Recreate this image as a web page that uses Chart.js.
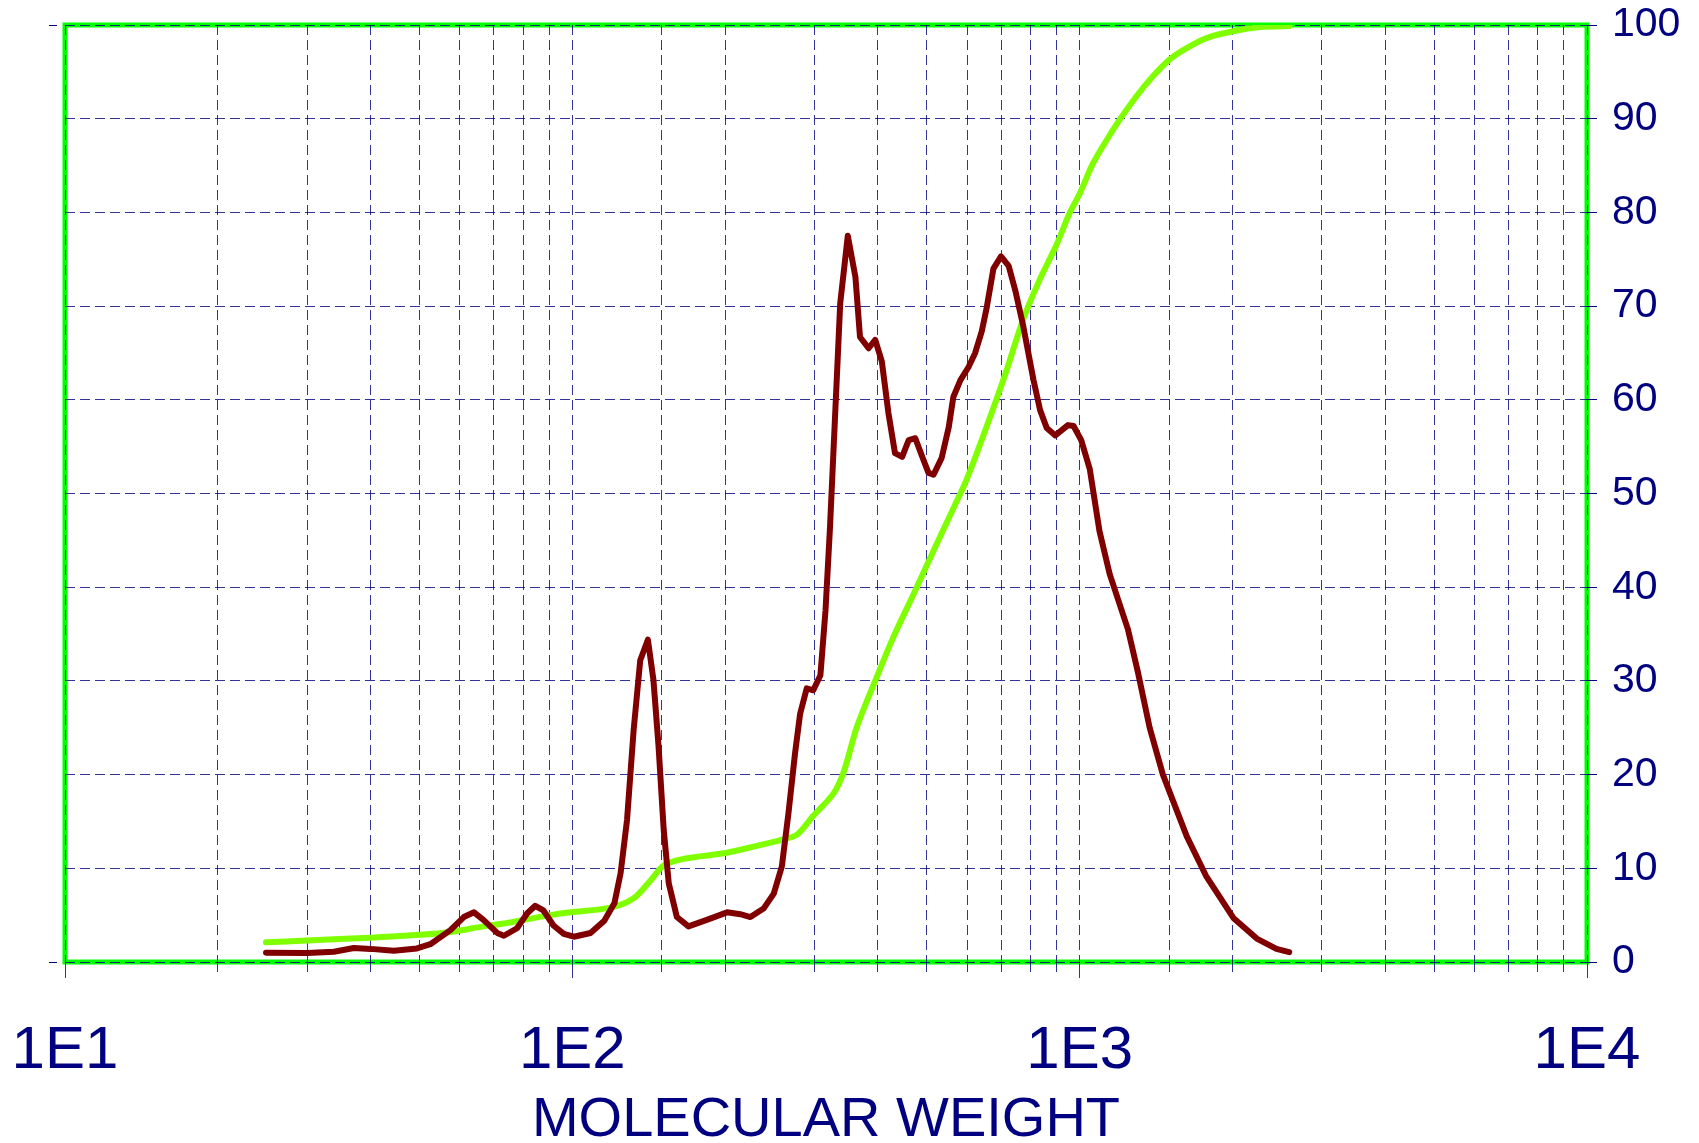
<!DOCTYPE html>
<html>
<head>
<meta charset="utf-8">
<script src="https://cdn.jsdelivr.net/npm/chart.js@4"></script>
<style>
  html, body { margin: 0; padding: 0; background: #fff; }
  #wrap { width: 1699px; height: 1143px; position: relative; }
</style>
</head>
<body>
<div id="wrap"><canvas id="chart"></canvas></div>
<script>
// distribution curve (dark red)
const distMW = [24.9, 30.0, 33.9, 37.1, 40.0, 44.5, 49.4, 52.5, 57.5, 61.1, 64.0, 66.8, 71.1, 73.3, 77.8, 81.5, 84.5, 87.7, 91.8, 96.2,
  100.7, 108.6, 115.6, 121.1, 124.5, 128.2, 132.1, 136.1, 140.9, 144.5, 147.9, 151.4, 154.9, 160.7, 169.4, 184.1, 201.8, 214.3, 224.4, 238.2,
  249.5, 258.8, 266.7, 274.8, 281.2, 289.7, 298.5, 308.3, 315.5, 322.1, 337.3, 349.1, 361.4, 369.0, 383.7, 395.4, 407.4, 419.8, 432.5, 446.7,
  460.3, 474.2, 492.0, 503.5, 515.2, 534.6, 552.1, 563.6, 582.1, 603.9, 622.3, 641.2, 656.1, 676.1, 699.8, 724.4, 746.4, 774.5, 811.0, 835.6,
  861.0, 895.4, 948.4, 972.7, 1007, 1047, 1094, 1146, 1245, 1303, 1374, 1459, 1626, 1778, 2009, 2234, 2443, 2588];
const distValue = [1.0, 0.95, 1.1, 1.5, 1.4, 1.2, 1.45, 1.9, 3.4, 4.8, 5.3, 4.5, 3.1, 2.8, 3.6, 5.2, 6.0, 5.5, 3.9, 3.0,
  2.7, 3.1, 4.4, 6.3, 9.5, 15.2, 24.8, 32.2, 34.4, 30.1, 23.0, 14.1, 8.4, 4.8, 3.8, 4.5, 5.3, 5.1, 4.8, 5.7,
  7.3, 10.2, 15.9, 22.3, 26.5, 29.2, 29.0, 30.6, 37.5, 46.5, 70.3, 77.5, 73.1, 66.7, 65.5, 66.4, 64.1, 58.6, 54.3, 53.9,
  55.7, 55.9, 53.6, 52.2, 52.0, 53.8, 57.1, 60.3, 62.1, 63.5, 65.0, 67.3, 69.9, 74.0, 75.3, 74.3, 71.7, 67.8, 62.1, 58.9,
  57.0, 56.2, 57.3, 57.2, 55.7, 52.6, 46.0, 41.4, 35.5, 30.9, 25.0, 20.0, 13.4, 9.1, 4.7, 2.5, 1.4, 1.05];

// cumulative curve (green)
const cumMW = [24.9, 30.0, 40.0, 50.1, 57.5, 66.8, 73.3, 80.2, 90.6, 99.1, 118.9, 132.1, 142.6, 151.4, 165.6, 198.6, 231.2, 257.0, 277.3, 298.5,
  327.3, 342.8, 363.9, 398.1, 429.5, 471.0, 515.2, 563.6, 599.8, 659.2, 716.1, 772.7, 833.7, 899.5, 955.0, 1000, 1061.7, 1129.8, 1199.5, 1294.2,
  1393.2, 1503.3, 1621.8, 1778.3, 1995.3, 2296.1, 2594.2];
const cumValue = [2.1, 2.3, 2.6, 2.9, 3.2, 3.8, 4.1, 4.5, 5.0, 5.3, 5.8, 6.8, 8.7, 10.3, 11.0, 11.6, 12.4, 13.0, 13.6, 15.6,
  18.0, 20.3, 25.1, 30.4, 34.7, 39.3, 43.9, 48.4, 51.6, 57.5, 63.0, 68.5, 72.8, 76.5, 79.9, 82.0, 85.2, 87.7, 89.9, 92.4,
  94.5, 96.3, 97.5, 98.6, 99.3, 99.8, 99.9];

const xDecades = [10, 100, 1000, 10000];
const xTickLabels = ['1E1', '1E2', '1E3', '1E4'];

const NAVY = '#000080';
const GRID = 'rgba(0,0,128,0.8)';
const FONT = "'Liberation Sans', Arial, sans-serif";

const toPoints = (xs, ys) => xs.map((x, i) => ({ x: x, y: ys[i] }));

// green frame round the plot area, under the dashed grid
const frame = {
  id: 'frame',
  beforeDraw(chart) {
    const { ctx, chartArea: a } = chart;
    ctx.save();
    ctx.strokeStyle = '#00FF00';
    ctx.lineWidth = 5;
    ctx.strokeRect(a.left, a.top, a.right - a.left, a.bottom - a.top);
    ctx.restore();
  }
};

new Chart(document.getElementById('chart'), {
  type: 'line',
  data: {
    datasets: [
      {
        data: toPoints(distMW, distValue),
        borderColor: '#800000',
        borderWidth: 6,
        pointRadius: 0,
        tension: 0,
        borderCapStyle: 'round',
        borderJoinStyle: 'round',
        yAxisID: 'y'
      },
      {
        data: toPoints(cumMW, cumValue),
        borderColor: '#80FF00',
        borderWidth: 6,
        pointRadius: 0,
        tension: 0.3,
        borderCapStyle: 'round',
        borderJoinStyle: 'round',
        yAxisID: 'y'
      }
    ]
  },
  options: {
    responsive: true,
    maintainAspectRatio: false,
    animation: false,
    layout: { padding: { top: 25, left: 0, right: 0, bottom: 0 } },
    plugins: { legend: { display: false }, tooltip: { enabled: false } },
    scales: {
      x: {
        type: 'logarithmic',
        position: 'bottom',
        min: 10,
        max: 10000,
        border: { display: false, dash: [10, 5] },
        grid: {
          color: GRID,
          lineWidth: 1,
          tickLength: 48,
          tickColor: GRID,
          tickBorderDash: (c) => xDecades.includes(c.tick && c.tick.value) ? [16, 100] : [10, 100]
        },
        ticks: {
          autoSkip: false,
          maxRotation: 0,
          minRotation: 0,
          padding: 5,
          color: NAVY,
          font: { family: FONT, size: 60 },
          callback: (v) => {
            const k = xDecades.indexOf(v);
            return k >= 0 ? xTickLabels[k] : '';
          }
        },
        title: {
          display: true,
          text: 'MOLECULAR WEIGHT',
          color: NAVY,
          padding: 0,
          font: { family: FONT, size: 56, lineHeight: 0.8 }
        },
        afterFit: (s) => { s.height = 181; }
      },
      y: {
        type: 'linear',
        position: 'right',
        min: 0,
        max: 100,
        border: { display: false, dash: [10, 5] },
        grid: {
          color: GRID,
          lineWidth: 1,
          tickLength: 25,
          tickColor: NAVY,
          tickBorderDash: [10, 100]
        },
        ticks: {
          stepSize: 10,
          padding: 0,
          color: NAVY,
          font: { family: FONT, size: 41 }
        },
        afterFit: (s) => { s.width = 112; }
      },
      yl: {
        type: 'linear',
        position: 'left',
        min: 0,
        max: 100,
        border: { display: false },
        grid: {
          drawOnChartArea: false,
          tickLength: 16,
          tickColor: NAVY,
          tickBorderDash: [8, 40]
        },
        ticks: { stepSize: 100, display: false },
        afterFit: (s) => { s.width = 65; }
      }
    }
  },
  plugins: [frame]
});
</script>
</body>
</html>
